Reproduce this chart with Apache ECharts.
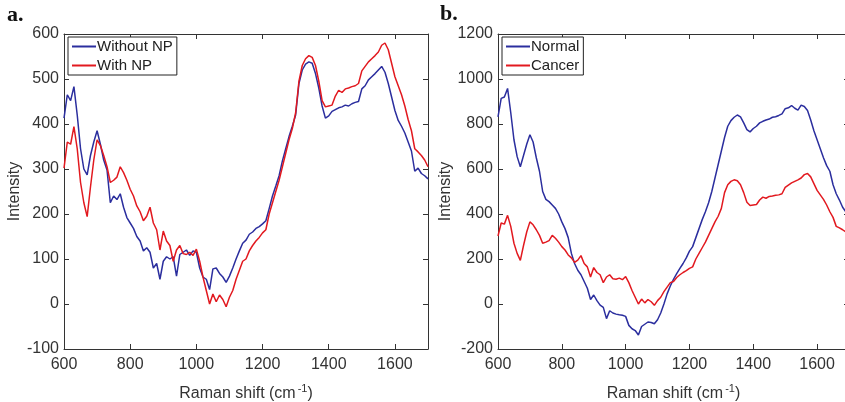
<!DOCTYPE html>
<html>
<head>
<meta charset="utf-8">
<script src="https://cdn.jsdelivr.net/npm/echarts@6/dist/echarts.min.js"></script>
<style>
  html, body { margin: 0; padding: 0; background: #fff; }
  #chart { width: 845px; height: 402px; }
</style>
</head>
<body>
<div id="chart"></div>
<script>
// Raman shift axis (cm^-1), sampled every 10 units from 600 to 1700
const ramanShift = [];
for (let s = 600; s <= 1700; s += 10) ramanShift.push(s);

// Panel a: spectra without and with nanoparticles
const withoutNP = [
  413, 465, 452, 483, 420, 345, 300, 287, 330, 360,
  385, 355, 320, 298, 225, 240, 232, 245, 215, 192,
  180, 168, 150, 140, 118, 125, 115, 80, 90, 55,
  95, 105, 100, 105, 62, 110, 115, 120, 108, 118,
  115, 80, 60, 55, 32, 78, 80, 68, 60, 48,
  62, 80, 100, 118, 135, 142, 155, 160, 168, 172,
  178, 185, 212, 240, 262, 285, 318, 345, 372, 395,
  420, 490, 520, 533, 538, 535, 512, 480, 440, 413,
  418, 428, 432, 436, 438, 442, 440, 445, 448, 450,
  478, 485, 498, 505, 512, 520, 528, 515, 490, 460,
  430, 408, 395, 380, 360, 340, 295, 302, 290, 285,
  278
];
const withNP = [
  302, 360, 355, 394, 345, 270, 225, 194, 260, 320,
  365, 352, 330, 305, 270, 275, 282, 305, 292, 275,
  255, 240, 218, 205, 185, 195, 215, 180, 165, 120,
  162, 140, 130, 95, 120, 130, 112, 110, 115, 108,
  122, 95, 60, 30, 0, 22, 5, 20, 10, -6,
  15, 30, 55, 75, 95, 100, 118, 130, 140, 148,
  158, 165, 200, 225, 250, 275, 305, 335, 365, 390,
  425, 495, 530, 545, 552, 548, 530, 495, 452, 438,
  440, 442, 462, 475, 470, 478, 480, 483, 485, 490,
  518, 528, 538, 545, 552, 560, 575, 580, 565, 535,
  505, 485, 465, 440, 410, 385, 345, 338, 330, 320,
  305
];

// Panel b: normal vs cancer tissue
const normal = [
  832, 914, 920, 958, 850, 730, 655, 610, 660, 710,
  752, 720, 650, 590, 500, 465, 455, 440, 425, 400,
  365, 335, 295, 225, 180, 150, 130, 100, 70, 20,
  40, 15, -5, -15, -65, -30, -40, -45, -48, -50,
  -55, -95, -110, -118, -138, -100, -90, -80, -82, -88,
  -70, -40, 0, 45, 80, 110, 135, 158, 180, 205,
  235, 255, 295, 335, 375, 410, 450, 500, 560, 620,
  680, 740, 790, 815, 830, 840, 832, 805, 775, 765,
  780, 790, 805, 812, 818, 822, 830, 832, 838, 845,
  868, 872, 882, 870, 862, 884, 878, 860, 818, 770,
  730, 690, 650, 615, 590, 530, 490, 462, 430, 410,
  395
];
const cancer = withNP;

const BLUE = '#2b2e9e';
const RED = '#e2191f';
const INK = '#333333';
const FONT = 'Liberation Sans';

function pairs(values) {
  return ramanShift.map((s, i) => [s, values[i]]);
}

function xAxes(gridIndex, name) {
  const common = {
    gridIndex, type: 'value', min: 600, max: 1700, interval: 200,
    axisLine: { show: true, onZero: false, lineStyle: { color: INK, width: 1 } },
    axisTick: { show: true, inside: true, length: 5, lineStyle: { color: INK } },
    splitLine: { show: false }
  };
  return [
    Object.assign({}, common, {
      position: 'bottom',
      axisLabel: {
        fontFamily: FONT, fontSize: 16, color: INK, margin: 8,
        formatter: v => (v === 1700 ? '' : String(v))
      },
      name, nameLocation: 'middle', nameGap: 34,
      nameTextStyle: {
        fontFamily: FONT, fontSize: 16, color: INK,
        rich: { sup: { fontFamily: FONT, fontSize: 11, color: INK, padding: [0, 0, 10, 2] },
                base: { fontFamily: FONT, fontSize: 16, color: INK } }
      }
    }),
    Object.assign({}, common, { position: 'top', axisLabel: { show: false } })
  ];
}

function yAxes(gridIndex, min, max, interval, nameGap) {
  const common = {
    gridIndex, type: 'value', min, max, interval,
    axisLine: { show: true, onZero: false, lineStyle: { color: INK, width: 1 } },
    axisTick: { show: true, inside: true, length: 5, lineStyle: { color: INK } },
    splitLine: { show: false }
  };
  return [
    Object.assign({}, common, {
      position: 'left',
      axisLabel: { fontFamily: FONT, fontSize: 16, color: INK, margin: 5, formatter: v => String(v) },
      name: 'Intensity', nameLocation: 'middle', nameGap,
      nameTextStyle: { fontFamily: FONT, fontSize: 16, color: INK }
    }),
    Object.assign({}, common, { position: 'right', axisLabel: { show: false } })
  ];
}

function lineSeries(name, values, axisIdx, color) {
  return {
    name, type: 'line', data: pairs(values),
    xAxisIndex: axisIdx, yAxisIndex: axisIdx,
    symbol: 'none', smooth: false,
    lineStyle: { color, width: 1.5 },
    itemStyle: { color },
    animation: false
  };
}

const shiftTitle = '{base|Raman shift (cm}{sup|-1}{base|)}';

const option = {
  backgroundColor: '#ffffff',
  animation: false,
  grid: [
    { left: 64, top: 34, width: 364, height: 315, outerBoundsMode: 'none', containLabel: false },
    { left: 498, top: 34, width: 351, height: 315, outerBoundsMode: 'none', containLabel: false }
  ],
  // axes 0/1 belong to panel a (bottom/top, left/right), axes 2/3 to panel b
  xAxis: [].concat(xAxes(0, shiftTitle), xAxes(1, shiftTitle)),
  yAxis: [].concat(yAxes(0, -100, 600, 100, 35), yAxes(1, -200, 1200, 200, 37)),
  legend: [
    {
      data: ['Without NP', 'With NP'], left: 68, top: 37, orient: 'vertical',
      icon: 'rect', itemWidth: 24, itemHeight: 2, itemGap: 4,
      borderColor: '#222', borderWidth: 1, padding: [2, 4, 2, 4],
      backgroundColor: '#fff',
      textStyle: { fontFamily: FONT, fontSize: 15, color: '#222', padding: [0, 0, 0, -4] }
    },
    {
      data: ['Normal', 'Cancer'], left: 502, top: 37, orient: 'vertical',
      icon: 'rect', itemWidth: 24, itemHeight: 2, itemGap: 4,
      borderColor: '#222', borderWidth: 1, padding: [2, 4, 2, 4],
      backgroundColor: '#fff',
      textStyle: { fontFamily: FONT, fontSize: 15, color: '#222', padding: [0, 0, 0, -4] }
    }
  ],
  graphic: [
    { type: 'text', left: 7, top: 4, style: { text: 'a.', font: 'bold 22px "Liberation Serif"', fill: '#111' } },
    { type: 'text', left: 440, top: 3, style: { text: 'b.', font: 'bold 22px "Liberation Serif"', fill: '#111' } }
  ],
  series: [
    lineSeries('Without NP', withoutNP, 0, BLUE),
    lineSeries('With NP', withNP, 0, RED),
    lineSeries('Normal', normal, 2, BLUE),
    lineSeries('Cancer', cancer, 2, RED)
  ]
};

const chart = echarts.init(document.getElementById('chart'), null, { renderer: 'canvas' });
chart.setOption(option);
</script>
</body>
</html>
